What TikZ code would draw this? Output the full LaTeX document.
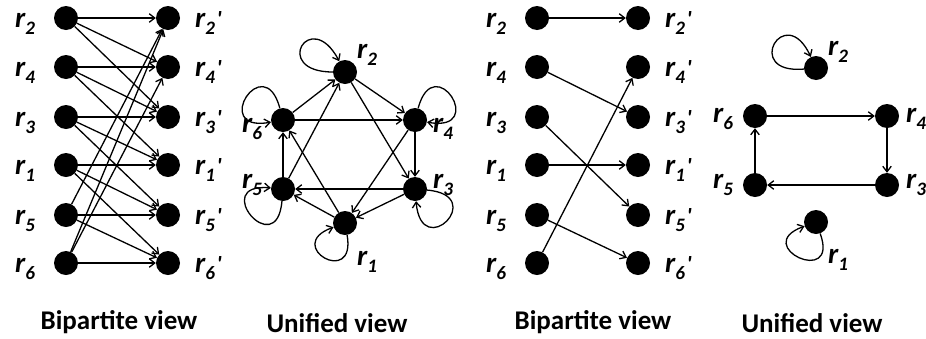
\documentclass[tikz,border=0pt]{standalone}
\usepackage{fontspec}
\setmainfont{Carlito}
\usetikzlibrary{arrows.meta}
\newcommand{\rlab}[1]{r\raisebox{-7pt}{\fontsize{19}{19}\selectfont #1}}
\newcommand{\rpl}[1]{r\raisebox{-7pt}{\fontsize{19}{19}\selectfont #1}\kern1.5pt\raisebox{1pt}{\fontsize{22}{22}\selectfont\textquotesingle}}
\begin{document}
\begin{tikzpicture}[x=1pt,y=-1pt,
  dot/.style={circle, fill=black, inner sep=0pt, minimum size=24pt},
  lab/.style={anchor=base west, inner sep=0pt, font=\bfseries\itshape\fontsize{29}{29}\selectfont},
  captxt/.style={anchor=base, inner sep=0pt, font=\bfseries\fontsize{27}{27}\selectfont},
  arr/.style={-{Straight Barb[length=5.5pt,width=8.5pt]}, line width=1.3pt}]
\useasboundingbox (0,0) rectangle (926,338);
% Bipartite 1 and 2
\foreach \n/\y in {2/18,4/67,3/117,1/165,5/215,6/263}{
  \node[dot] (b1L\n) at (66,\y) {};
  \node[dot] (b1R\n) at (168,\y) {};
  \node[lab] (b1Lt\n) at (15,\y+9) {\rlab{\n}};
  \node[lab] (b1Rt\n) at (195,\y+9) {\rpl{\n}};
  \node[dot] (b2L\n) at (537,\y) {};
  \node[dot] (b2R\n) at (638,\y) {};
  \node[lab] (b2Lt\n) at (486,\y+9) {\rlab{\n}};
  \node[lab] (b2Rt\n) at (665,\y+9) {\rpl{\n}};
}
\foreach \a/\b in {2/2,2/4,2/3,4/4,4/3,4/1,3/3,3/1,3/5,1/1,1/5,1/6,5/5,5/6,5/2,6/6,6/2,6/4}{
  \draw[arr] (b1L\a) -- (b1R\b);
}
\foreach \a/\b in {2/2,4/3,3/5,1/1,5/6,6/4}{
  \draw[arr] (b2L\a) -- (b2R\b);
}
% Unified 1
\node[dot] (u1n2) at (345,72) {};
\node[dot] (u1n6) at (283,120) {};
\node[dot] (u1n4) at (415,120) {};
\node[dot] (u1n5) at (283,189) {};
\node[dot] (u1n3) at (415,189) {};
\node[dot] (u1n1) at (345,223) {};
\node[lab] (u1t2) at (357,58) {\rlab{2}};
\node[lab] (u1t6) at (242,132) {\rlab{6}};
\node[lab] (u1t4) at (433,132) {\rlab{4}};
\node[lab] (u1t5) at (242,188) {\rlab{5}};
\node[lab] (u1t3) at (433,188) {\rlab{3}};
\node[lab] (u1t1) at (357,265) {\rlab{1}};
\foreach \a/\b in {2/4,2/3,4/3,4/1,6/4,3/5,3/1,1/5,1/6,5/6,5/2,6/2}{
  \draw[arr] (u1n\a) -- (u1n\b);
}
% Unified 2
\node[dot] (u2n2) at (816,68) {};
\node[dot] (u2n6) at (755,116) {};
\node[dot] (u2n4) at (887,116) {};
\node[dot] (u2n5) at (755,185) {};
\node[dot] (u2n3) at (887,185) {};
\node[dot] (u2n1) at (816,222) {};
\node[lab] (u2t2) at (828,55) {\rlab{2}};
\node[lab] (u2t6) at (713,122) {\rlab{6}};
\node[lab] (u2t4) at (906,122) {\rlab{4}};
\node[lab] (u2t5) at (713,188) {\rlab{5}};
\node[lab] (u2t3) at (906,188) {\rlab{3}};
\node[lab] (u2t1) at (828,263) {\rlab{1}};
\foreach \a/\b in {6/4,4/3,3/5,5/6}{
  \draw[arr] (u2n\a) -- (u2n\b);
}
% Self loops
\foreach \n/\o/\i/\d in {u1n2/180/118/62, u1n6/105/190/62, u1n4/75/-10/62, u1n5/-95/175/62, u1n3/-5/-85/62, u1n1/-80/200/54, u2n2/185/115/62, u2n1/-70/200/58}{
  \draw[arr] (\n.\o) .. controls +(\o:\d pt) and +(\i:\d pt) .. (\n.\i);
}
% Captions
\node[captxt] (c1) at (119,329) {Bipartite view};
\node[captxt] (c2) at (337,332) {Unified view};
\node[captxt] (c3) at (593,329) {Bipartite view};
\node[captxt] (c4) at (812,332) {Unified view};
\end{tikzpicture}
\end{document}
